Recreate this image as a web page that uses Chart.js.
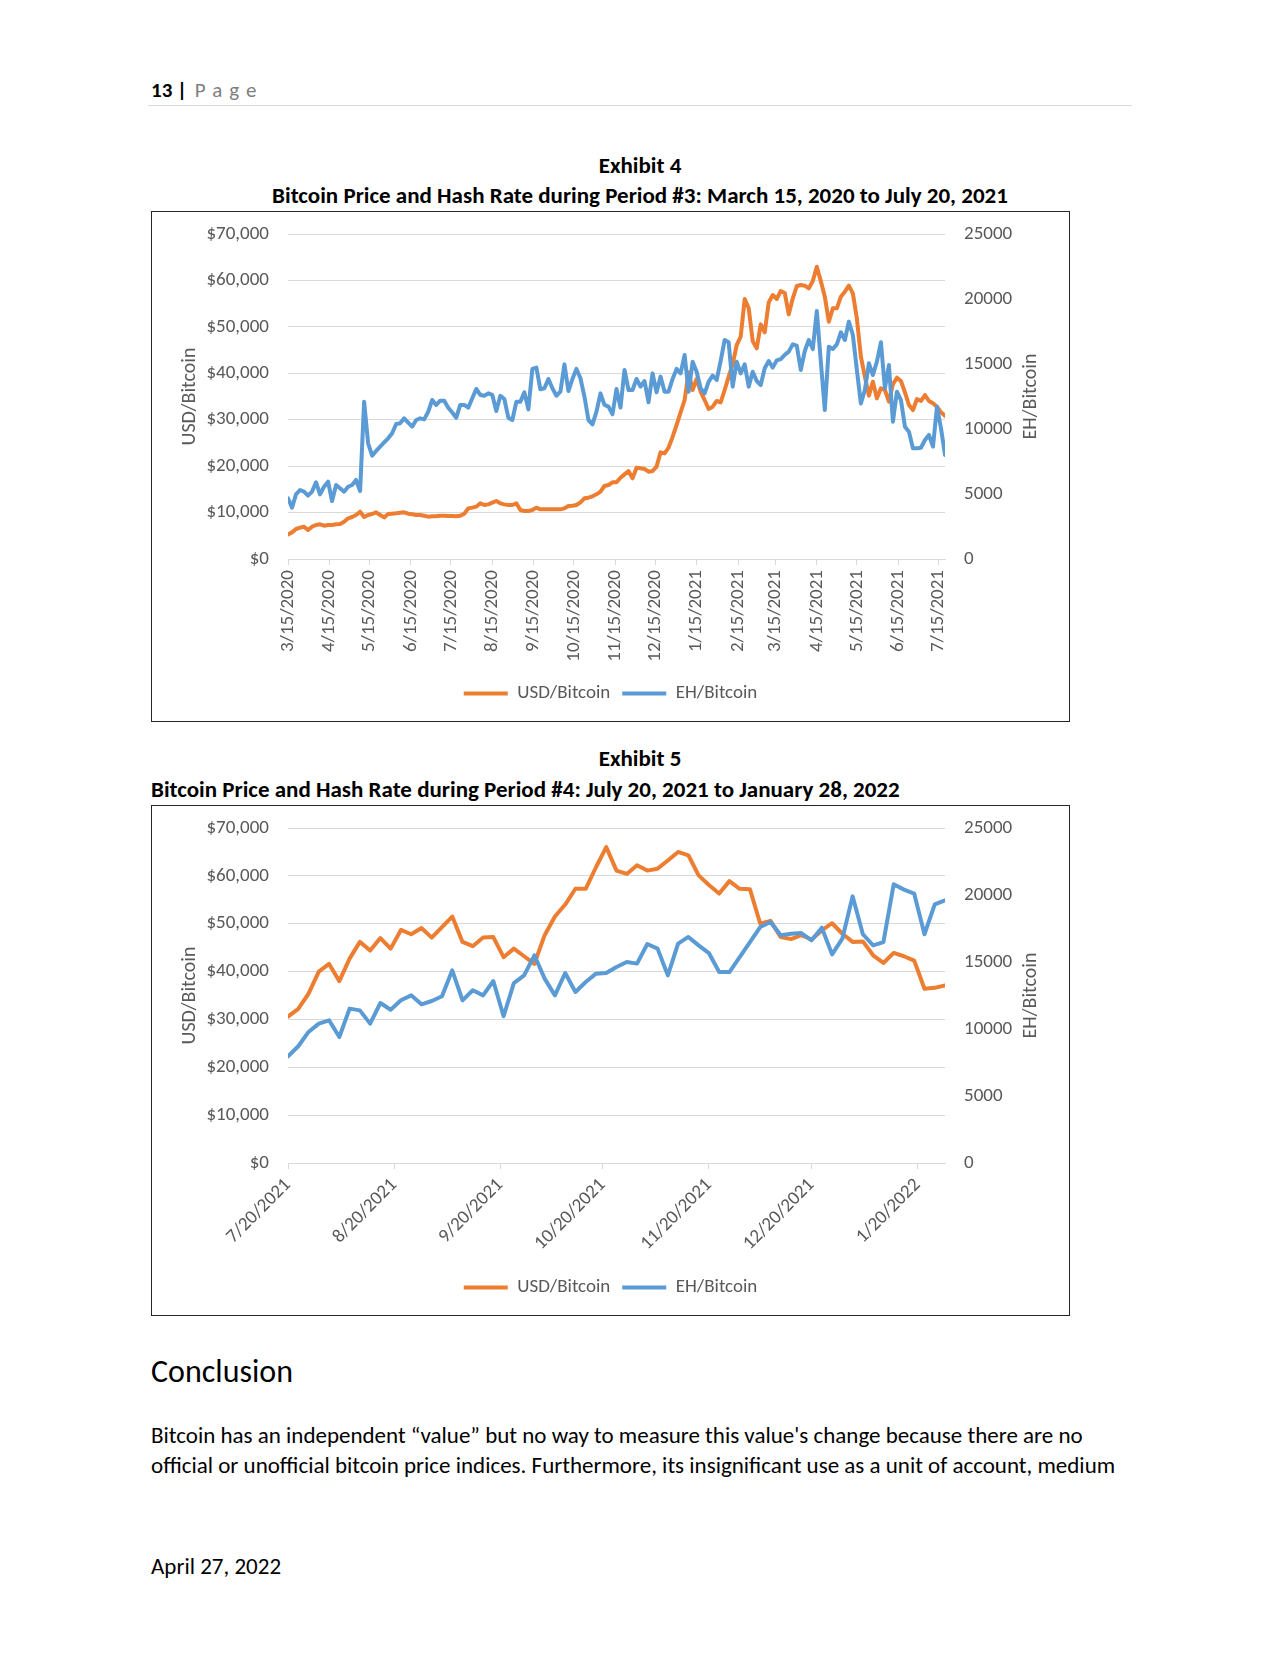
<!DOCTYPE html>
<html>
<head>
<meta charset="utf-8">
<title>Exhibit 4 / Exhibit 5</title>
<script src="https://cdn.jsdelivr.net/npm/chart.js@4.4.1/dist/chart.umd.min.js"></script>
<style>
    body {
        margin: 0;
        background: #ffffff;
        font-family: Carlito, Lato, sans-serif;
        color: #000000;
    }

    #page {
        position: relative;
        width: 1280px;
        height: 1656px;
        overflow: hidden;
    }

    .txt {
        position: absolute;
        white-space: nowrap;
    }

    .center {
        left: 0;
        width: 1280px;
        text-align: center;
    }

    .bold {
        font-weight: bold;
    }

    .chart-box {
        position: absolute;
        left: 151px;
        width: 919px;
        height: 511px;
        box-sizing: border-box;
        border: 1px solid #262626;
    }

    .chart-box canvas {
        position: absolute;
        left: 0;
        top: 0;
    }
</style>
</head>
<body>
<div id="page">

    <div class="txt" style="left:151px; top:76px; font-size:21px; line-height:28px;">
        <b>13 |</b> <span style="margin-left:3px; color:#7f7f7f; letter-spacing:7px;">Page</span>
    </div>
    <div style="position:absolute; left:148px; top:105px; width:984px; height:1px; background:#d9d9d9;"></div>

    <div class="txt center bold" style="top:151px; font-size:23px; line-height:28px;">Exhibit 4</div>
    <div class="txt center bold" style="top:181px; font-size:23px; line-height:28px;">Bitcoin Price and Hash Rate during Period #3: March 15, 2020 to July 20, 2021</div>

    <div class="chart-box" style="top:211px;">
        <canvas id="period3Chart" width="917" height="509"></canvas>
    </div>

    <div class="txt center bold" style="top:744px; font-size:23px; line-height:28px;">Exhibit 5</div>
    <div class="txt bold" style="left:151px; top:775px; font-size:23px; line-height:28px;">Bitcoin Price and Hash Rate during Period #4: July 20, 2021 to January 28, 2022</div>

    <div class="chart-box" style="top:805px;">
        <canvas id="period4Chart" width="917" height="509"></canvas>
    </div>

    <div class="txt" style="left:151px; top:1352px; font-size:32px; line-height:40px;">Conclusion</div>

    <div class="txt" style="left:151px; top:1420px; font-size:23px; line-height:30px;">
        Bitcoin has an independent “value” but no way to measure this value's change because there are no<br>
        official or unofficial bitcoin price indices. Furthermore, its insignificant use as a unit of account, medium
    </div>

    <div class="txt" style="left:151px; top:1551px; font-size:23px; line-height:30px;">April 27, 2022</div>
</div>

<script>
/**
 * Exhibit 4 / Exhibit 5 차트
 * - 3일 간격 시세(USD/Bitcoin)와 해시레이트(EH/Bitcoin)
 * - 왼쪽 축: USD, 오른쪽 축: EH
 */

// Period #3 : 3/15/2020 ~ 7/20/2021
const period3Dates = [
    '3/15/2020', '3/18/2020', '3/21/2020', '3/24/2020', '3/27/2020', '3/30/2020', '4/2/2020', '4/5/2020', '4/8/2020', '4/11/2020',
    '4/14/2020', '4/17/2020', '4/20/2020', '4/23/2020', '4/26/2020', '4/29/2020', '5/2/2020', '5/5/2020', '5/8/2020', '5/11/2020',
    '5/14/2020', '5/17/2020', '5/20/2020', '5/23/2020', '5/26/2020', '5/29/2020', '6/1/2020', '6/4/2020', '6/7/2020', '6/10/2020',
    '6/13/2020', '6/16/2020', '6/19/2020', '6/22/2020', '6/25/2020', '6/28/2020', '7/1/2020', '7/4/2020', '7/7/2020', '7/10/2020',
    '7/13/2020', '7/16/2020', '7/19/2020', '7/22/2020', '7/25/2020', '7/28/2020', '7/31/2020', '8/3/2020', '8/6/2020', '8/9/2020',
    '8/12/2020', '8/15/2020', '8/18/2020', '8/21/2020', '8/24/2020', '8/27/2020', '8/30/2020', '9/2/2020', '9/5/2020', '9/8/2020',
    '9/11/2020', '9/14/2020', '9/17/2020', '9/20/2020', '9/23/2020', '9/26/2020', '9/29/2020', '10/2/2020', '10/5/2020', '10/8/2020',
    '10/11/2020', '10/14/2020', '10/17/2020', '10/20/2020', '10/23/2020', '10/26/2020', '10/29/2020', '11/1/2020', '11/4/2020', '11/7/2020',
    '11/10/2020', '11/13/2020', '11/16/2020', '11/19/2020', '11/22/2020', '11/25/2020', '11/28/2020', '12/1/2020', '12/4/2020', '12/7/2020',
    '12/10/2020', '12/13/2020', '12/16/2020', '12/19/2020', '12/22/2020', '12/25/2020', '12/28/2020', '12/31/2020', '1/3/2021', '1/6/2021',
    '1/9/2021', '1/12/2021', '1/15/2021', '1/18/2021', '1/21/2021', '1/24/2021', '1/27/2021', '1/30/2021', '2/2/2021', '2/5/2021',
    '2/8/2021', '2/11/2021', '2/14/2021', '2/17/2021', '2/20/2021', '2/23/2021', '2/26/2021', '3/1/2021', '3/4/2021', '3/7/2021',
    '3/10/2021', '3/13/2021', '3/16/2021', '3/19/2021', '3/22/2021', '3/25/2021', '3/28/2021', '3/31/2021', '4/3/2021', '4/6/2021',
    '4/9/2021', '4/12/2021', '4/15/2021', '4/18/2021', '4/21/2021', '4/24/2021', '4/27/2021', '4/30/2021', '5/3/2021', '5/6/2021',
    '5/9/2021', '5/12/2021', '5/15/2021', '5/18/2021', '5/21/2021', '5/24/2021', '5/27/2021', '5/30/2021', '6/2/2021', '6/5/2021',
    '6/8/2021', '6/11/2021', '6/14/2021', '6/17/2021', '6/20/2021', '6/23/2021', '6/26/2021', '6/29/2021', '7/2/2021', '7/5/2021',
    '7/8/2021', '7/11/2021', '7/14/2021', '7/17/2021', '7/20/2021'
];

const period3Usd = [
    5300, 5740, 6460, 6750, 6960, 6250, 6960, 7320, 7470, 7180,
    7320, 7320, 7470, 7540, 8040, 8760, 9050, 9480, 10190, 9050,
    9480, 9690, 10050, 9480, 8970, 9690, 9760, 9840, 9980, 10050,
    9760, 9620, 9480, 9480, 9330, 9120, 9190, 9190, 9330, 9330,
    9260, 9260, 9190, 9330, 9760, 10910, 11060, 11270, 11990, 11630,
    11770, 12130, 12490, 11990, 11770, 11630, 11630, 11990, 10550, 10340,
    10340, 10550, 11060, 10700, 10700, 10700, 10700, 10700, 10700, 10910,
    11420, 11490, 11630, 12200, 13070, 13210, 13500, 13930, 14500, 15720,
    15940, 16510, 16550, 17500, 18230, 18950, 17370, 19670, 19530, 19380,
    18810, 18950, 19890, 22970, 22760, 23980, 26280, 28860, 31590, 34240,
    40200, 36400, 38770, 36040, 34240, 32310, 32810, 34030, 33740, 36400,
    39270, 41930, 46090, 47880, 56000, 53990, 46950, 45370, 50540, 48820,
    55280, 56860, 56000, 57720, 57300, 52690, 56140, 58800, 59010, 58870,
    58290, 59870, 62960, 59870, 56500, 51110, 53990, 53990, 56500, 57580,
    58870, 57220, 51830, 43580, 39270, 35180, 38190, 34600, 36760, 36400,
    33890, 37620, 39050, 38340, 35900, 33170, 32090, 34460, 34030, 35320,
    34030, 33530, 32810, 31590, 30870
];

const period3Eh = [
    4670, 3950, 4970, 5310, 5180, 4870, 5180, 5900, 4970, 5560,
    5950, 4460, 5690, 5440, 5180, 5560, 5690, 6080, 5230, 12100,
    8900, 7950, 8310, 8640, 8970, 9280, 9670, 10380, 10440, 10820,
    10490, 10180, 10690, 10820, 10740, 11330, 12230, 11850, 12180, 12180,
    11640, 11270, 10870, 11850, 11850, 11640, 12360, 13080, 12620, 12560,
    12740, 12620, 11380, 12560, 12310, 10870, 10690, 12100, 12100, 12820,
    11510, 14620, 14720, 13050, 13130, 13850, 13130, 12560, 12870, 14970,
    12920, 13850, 14620, 13900, 12490, 10690, 10360, 11330, 12740, 11850,
    11720, 11130, 13080, 11650, 14540, 13000, 13000, 13850, 13260, 13690,
    12050, 14280, 12820, 14030, 12870, 12870, 13850, 14620, 14280, 15690,
    12870, 15180, 14410, 13130, 12740, 13640, 14100, 13770, 15230, 16850,
    16670, 13260, 15180, 14280, 14970, 13260, 14410, 13690, 13380, 14670,
    15230, 14720, 15280, 15380, 15700, 15950, 16510, 16410, 14540, 16000,
    16850, 16150, 19080, 15180, 11460, 16330, 16150, 16510, 17440, 16850,
    18260, 17230, 14540, 11970, 13000, 15050, 14150, 15180, 16670, 13130,
    14920, 10560, 12870, 12230, 10180, 9790, 8510, 8510, 8560, 9150,
    9540, 8640, 11720, 10050, 8000
];

const period3Ticks = [
    '3/15/2020', '4/15/2020', '5/15/2020', '6/15/2020', '7/15/2020', '8/15/2020',
    '9/15/2020', '10/15/2020', '11/15/2020', '12/15/2020', '1/15/2021', '2/15/2021',
    '3/15/2021', '4/15/2021', '5/15/2021', '6/15/2021', '7/15/2021'
];


// Period #4 : 7/20/2021 ~ 1/28/2022
const period4Dates = [
    '7/20/2021', '7/23/2021', '7/26/2021', '7/29/2021', '8/1/2021', '8/4/2021', '8/7/2021', '8/10/2021', '8/13/2021', '8/16/2021',
    '8/19/2021', '8/22/2021', '8/25/2021', '8/28/2021', '8/31/2021', '9/3/2021', '9/6/2021', '9/9/2021', '9/12/2021', '9/15/2021',
    '9/18/2021', '9/21/2021', '9/24/2021', '9/27/2021', '9/30/2021', '10/3/2021', '10/6/2021', '10/9/2021', '10/12/2021', '10/15/2021',
    '10/18/2021', '10/21/2021', '10/24/2021', '10/27/2021', '10/30/2021', '11/2/2021', '11/5/2021', '11/8/2021', '11/11/2021', '11/14/2021',
    '11/17/2021', '11/20/2021', '11/23/2021', '11/26/2021', '11/29/2021', '12/2/2021', '12/5/2021', '12/8/2021', '12/11/2021', '12/14/2021',
    '12/17/2021', '12/20/2021', '12/23/2021', '12/26/2021', '12/29/2021', '1/1/2022', '1/4/2022', '1/7/2022', '1/10/2022', '1/13/2022',
    '1/16/2022', '1/19/2022', '1/22/2022', '1/25/2022', '1/28/2022'
];

const period4Usd = [
    30600, 32200, 35400, 40000, 41600, 38000, 42700, 46200, 44400, 47000,
    44800, 48700, 47800, 49100, 47100, 49300, 51500, 46200, 45300, 47100,
    47200, 43000, 44800, 43200, 41600, 47600, 51500, 54000, 57300, 57300,
    61800, 66000, 61100, 60400, 62200, 61100, 61500, 63200, 65000, 64300,
    60100, 58100, 56300, 58900, 57300, 57200, 50000, 50600, 47200, 46800,
    47600, 46700, 48600, 50100, 47900, 46200, 46300, 43400, 41800, 43900,
    43200, 42300, 36400, 36600, 37100
];

const period4Eh = [
    7960, 8710, 9780, 10400, 10650, 9400, 11520, 11390, 10400, 11940,
    11440, 12140, 12510, 11840, 12090, 12440, 14380, 12140, 12890, 12510,
    13580, 10950, 13430, 14000, 15500, 13760, 12510, 14180, 12760, 13510,
    14130, 14180, 14630, 15000, 14880, 16340, 16000, 14000, 16370, 16870,
    16240, 15670, 14250, 14250, 15370, 16490, 17610, 17990, 16990, 17110,
    17160, 16620, 17560, 15570, 16740, 19900, 17070, 16240, 16490, 20800,
    20400, 20100, 17070, 19300, 19600
];

const period4Ticks = [
    '7/20/2021', '8/20/2021', '9/20/2021', '10/20/2021', '11/20/2021', '12/20/2021', '1/20/2022'
];


const USD_COLOR = '#ED7D31';
const EH_COLOR = '#5B9BD5';
const GRID_COLOR = '#d9d9d9';
const TEXT_COLOR = '#595959';
const FONT_FAMILY = 'Carlito, Lato, sans-serif';

Chart.defaults.font.family = FONT_FAMILY;
Chart.defaults.font.size = 19;
Chart.defaults.color = TEXT_COLOR;


// 'M/D/YYYY' -> 일 단위 숫자
function dayNumber(text) {

    const parts = text.split('/').map(Number);

    return Date.UTC(parts[2], parts[0] - 1, parts[1]) / 86400000;
}


// 오른쪽 축 제목 (아래에서 위로 읽히게)
const rightTitlePlugin = {
    id: 'rightTitle',
    afterDraw: function(chart) {

        const scale = chart.scales.y2;
        const ctx = chart.ctx;

        ctx.save();
        ctx.translate(scale.right - 38, (scale.top + scale.bottom) / 2);
        ctx.rotate(-Math.PI / 2);
        ctx.font = '20px ' + FONT_FAMILY;
        ctx.fillStyle = TEXT_COLOR;
        ctx.textAlign = 'center';
        ctx.textBaseline = 'middle';
        ctx.fillText(scale.options.title.text, 0, 0);
        ctx.restore();
    }
};


function lineDataset(label, dates, values, color, axisId, order) {

    return {
        label: label,
        data: dates.map(function(d, i) {
            return { x: dayNumber(d), y: values[i] };
        }),
        yAxisID: axisId,
        borderColor: color,
        backgroundColor: color,
        borderWidth: 4,
        borderJoinStyle: 'round',
        borderCapStyle: 'round',
        pointRadius: 0,
        tension: 0,
        order: order
    };
}


// 세로축 눈금 공간은 투명 tick 으로 확보 (padding 을 쓰면 위쪽 여백이 커짐)
function hiddenTickGrid(showGrid) {

    return {
        display: true,
        drawOnChartArea: showGrid,
        color: GRID_COLOR,
        drawTicks: true,
        tickLength: 19,
        tickColor: 'rgba(0,0,0,0)'
    };
}


function initPriceHashChart(canvasId, dates, usd, eh, tickDates, endDate, rotation, xHeight) {

    const ctx = document.getElementById(canvasId);

    if (!ctx) {
        return null;
    }

    return new Chart(ctx.getContext('2d'), {
        type: 'line',
        data: {
            datasets: [
                lineDataset('USD/Bitcoin', dates, usd, USD_COLOR, 'y', 1),
                lineDataset('EH/Bitcoin', dates, eh, EH_COLOR, 'y2', 0)
            ]
        },
        options: {
            responsive: false,
            animation: false,
            layout: {
                padding: { top: 22, bottom: 8, left: 0, right: 0 }
            },
            plugins: {
                tooltip: { enabled: false },
                legend: {
                    position: 'bottom',
                    labels: {
                        boxWidth: 44,
                        boxHeight: 4,
                        padding: 12,
                        color: TEXT_COLOR,
                        font: { size: 19 },
                        sort: function(a, b) {
                            return a.datasetIndex - b.datasetIndex;
                        },
                        generateLabels: function(chart) {
                            const items = Chart.defaults.plugins.legend.labels.generateLabels(chart);
                            items.forEach(function(item) {
                                item.lineWidth = 0;
                            });
                            return items;
                        }
                    }
                }
            },
            scales: {
                x: {
                    type: 'linear',
                    position: 'bottom',
                    min: dayNumber(dates[0]),
                    max: dayNumber(endDate),
                    afterBuildTicks: function(scale) {
                        scale.ticks = tickDates.map(function(t) {
                            return { value: dayNumber(t) };
                        });
                    },
                    afterFit: function(scale) {
                        scale.height = xHeight;
                    },
                    ticks: {
                        autoSkip: false,
                        minRotation: rotation,
                        maxRotation: rotation,
                        padding: 5,
                        color: TEXT_COLOR,
                        callback: function(value, index) {
                            return tickDates[index];
                        }
                    },
                    grid: {
                        drawOnChartArea: false,
                        drawTicks: true,
                        tickLength: 6,
                        color: GRID_COLOR
                    },
                    border: {
                        color: GRID_COLOR,
                        width: 1
                    }
                },
                y: {
                    position: 'left',
                    min: 0,
                    max: 70000,
                    afterFit: function(scale) {
                        scale.width = 136;
                    },
                    ticks: {
                        stepSize: 10000,
                        padding: 0,
                        color: TEXT_COLOR,
                        callback: function(value) {
                            return '$' + Number(value).toLocaleString('en-US');
                        }
                    },
                    grid: hiddenTickGrid(true),
                    border: {
                        display: false
                    },
                    title: {
                        display: true,
                        text: 'USD/Bitcoin',
                        color: TEXT_COLOR,
                        font: { size: 20 },
                        padding: { top: 26, bottom: 0 }
                    }
                },
                y2: {
                    position: 'right',
                    min: 0,
                    max: 25000,
                    afterFit: function(scale) {
                        scale.width = 124;
                    },
                    ticks: {
                        stepSize: 5000,
                        padding: 0,
                        color: TEXT_COLOR,
                        callback: function(value) {
                            return String(value);
                        }
                    },
                    grid: hiddenTickGrid(false),
                    border: {
                        display: false
                    },
                    title: {
                        display: false,
                        text: 'EH/Bitcoin'
                    }
                }
            }
        },
        plugins: [rightTitlePlugin]
    });
}


initPriceHashChart('period3Chart', period3Dates, period3Usd, period3Eh, period3Ticks, '7/20/2021', 90, 113);
initPriceHashChart('period4Chart', period4Dates, period4Usd, period4Eh, period4Ticks, '1/28/2022', 45, 103);
</script>
</body>
</html>
